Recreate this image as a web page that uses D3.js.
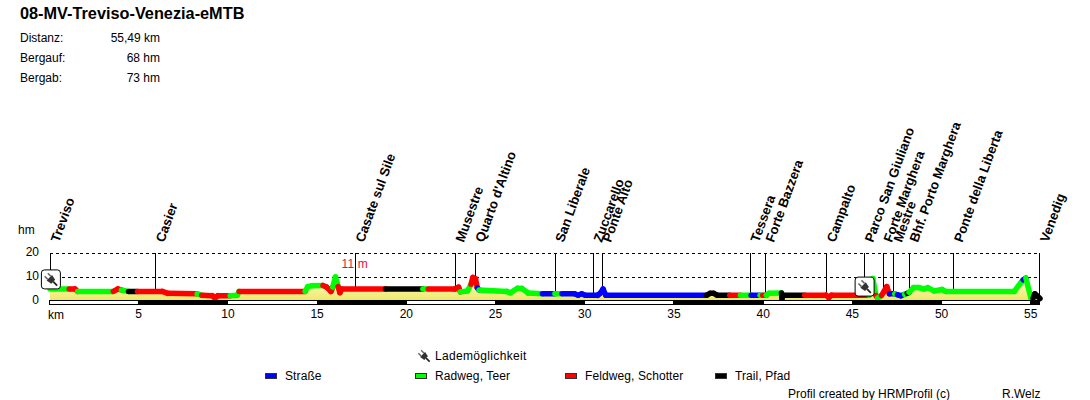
<!DOCTYPE html>
<html>
<head>
<meta charset="utf-8">
<script src="https://cdn.jsdelivr.net/npm/d3@7"></script>
<style>
    html, body { margin: 0; padding: 0; background: #fff; }
    svg { display: block; }
    text { font-family: "Liberation Sans", Arial, sans-serif; font-size: 12px; fill: #000; }
</style>
</head>
<body>
<div id="chart"></div>
<script>
const title = "08-MV-Treviso-Venezia-eMTB";
const statLabels = ["Distanz:", "Bergauf:", "Bergab:"];
const statValues = ["55,49 km", "68 hm", "73 hm"];

// Profil: km, Hoehe (hm), Belag des Abschnitts ab diesem Punkt
const profileKm = [0, 1.08, 1.4, 1.55, 3.55, 3.8, 4.0, 4.4, 4.9, 6.3, 6.6, 8.25, 8.5, 9.1, 9.25, 9.4, 10.1, 10.5, 10.6, 14.3,
    14.45, 14.7, 15.3, 15.5, 15.75, 15.85, 16.0, 16.15, 16.25, 16.35, 18.8, 20.9, 21.2, 22.7, 22.9, 23.0, 23.4, 23.6, 23.7, 23.85,
    23.95, 24.05, 25.6, 25.8, 26.2, 26.45, 26.8, 27.6, 28.3, 28.7, 29.4, 29.6, 29.8, 30, 30.7, 30.85, 31, 31.15, 36.8, 37.0,
    37.2, 37.4, 38.1, 38.7, 39.3, 39.8, 39.95, 40.15, 40.3, 41, 41.03, 41.08, 42.3, 43.5, 43.65, 43.8, 45.9, 46.12, 46.3, 46.4,
    46.6, 46.75, 46.9, 47.05, 47.35, 47.5, 47.7, 47.9, 48.05, 48.15, 48.4, 48.7, 49.0, 49.2, 49.55, 50, 50.2, 54.05, 54.45, 54.55,
    54.7, 54.98, 55.1, 55.2, 55.35, 55.49];
const profileHm = [5, 5, 5, 4, 4, 5, 4.6, 4, 4, 4, 3.2, 3, 2.4, 2.2, 1.2, 2.2, 2.2, 2.4, 4, 4,
    6, 6.4, 6.5, 5.8, 4, 5.8, 10, 6, 3.5, 5, 5, 5, 5, 5, 5.8, 3.8, 4.2, 7, 9.8, 9.3,
    5.5, 4.6, 4, 3.4, 5.3, 5.2, 3.3, 3, 3, 3, 3, 2.4, 3, 2.4, 2.4, 3.3, 5, 2.4, 2.4, 3.2,
    3.2, 2.4, 2.4, 2.4, 2.4, 2.4, 2.4, 2.4, 3.2, 3.3, 1, 2.4, 2.4, 2.4, 1.4, 2.4, 2.4, 9.4, 2.2, 1.3,
    2.3, 4, 6, 3, 3, 2.6, 2.2, 2.8, 3.2, 3.6, 5.6, 5.6, 5, 5.6, 4.2, 4.8, 4, 4, 8, 8.8,
    9.5, 1.2, 1.2, 3, 2, 1];
const profileSurface = ("GRRGRRGKRRRGRRRRGGRG" + "GGRRRGGRRR" + "KGRRRGGRRR"
    + "BGGGGGGBGB" + "BBBBBBBBKK" + "KKRGBGRGGK" + "KKRRRRGGRG"
    + "RRRBGBBGKG" + "GGGGGGGGGB" + "GGKKKK").split("");

const stationNames = ["Treviso", "Casier", "Casate sul Sile", "Musestre", "Quarto d'Altino", "San Liberale", "Zuccarello", "Ponte Alto",
    "Tessera", "Forte Bazzera", "Campalto", "Parco San Giuliano", "Forte Marghera", "Mestre", "Bhf. Porto Marghera", "Ponte della Liberta", "Venedig"];
const stationKm = [0, 5.88, 17.08, 22.68, 23.8, 28.28, 30.42, 30.92, 39.22, 40.06, 43.5, 45.63, 46.68, 47.23, 48.13, 50.63, 55.45];

const chargeKm = [0.05, 45.66];
const chargeHm = [9, 6];

const yTicks = [0, 10, 20];
const kmTicks = [5, 10, 15, 20, 25, 30, 35, 40, 45, 50, 55];
const stripKm = [0, 5, 10, 15, 20, 25, 30, 35, 40, 45, 50, 55, 55.49];

const legendNames = ["Straße", "Radweg, Teer", "Feldweg, Schotter", "Trail, Pfad"];
const legendKeys = ["B", "G", "R", "K"];
const surfaceColors = { B: "#0000ff", G: "#00ff00", R: "#ff0000", K: "#000000" };

const svg = d3.select("#chart").append("svg")
    .attr("width", 1090)
    .attr("height", 400);

const x = d3.scaleLinear().domain([0, 55.49]).range([50, 1040]);
const y = d3.scaleLinear().domain([0, 20]).range([301, 253]);
const hmAtKm = d3.scaleLinear().domain(profileKm).range(profileHm);

// Kopf
svg.append("text").attr("x", 20).attr("y", 19)
    .style("font-size", "16.3px").style("font-weight", "bold").text(title);
statLabels.forEach((s, i) => {
    svg.append("text").attr("x", 20).attr("y", 42 + i * 20).text(s);
    svg.append("text").attr("x", 160).attr("y", 42 + i * 20).attr("text-anchor", "end").text(statValues[i]);
});

// Flaeche unter dem Profil
const grad = svg.append("defs").append("linearGradient")
    .attr("id", "fill")
    .attr("gradientUnits", "userSpaceOnUse")
    .attr("x1", 0).attr("x2", 0)
    .attr("y1", y(10)).attr("y2", y(0));
grad.append("stop").attr("offset", 0).attr("stop-color", "#fffde0");
grad.append("stop").attr("offset", 1).attr("stop-color", "#eee860");

svg.append("path")
    .attr("d", d3.area().x((d, i) => x(profileKm[i])).y0(y(0)).y1(d => y(d))(profileHm))
    .attr("fill", "url(#fill)");

// Hilfslinien
svg.append("g").selectAll("line")
    .data([10, 20])
    .enter().append("line")
    .attr("x1", x(0)).attr("x2", x(55.49))
    .attr("y1", d => y(d)).attr("y2", d => y(d))
    .attr("stroke", "#000")
    .attr("stroke-dasharray", "3,3")
    .attr("shape-rendering", "crispEdges");

// Orte
svg.append("g").selectAll("line")
    .data(stationKm)
    .enter().append("line")
    .attr("x1", d => Math.round(x(d)) + 0.5).attr("x2", d => Math.round(x(d)) + 0.5)
    .attr("y1", y(20))
    .attr("y2", d => y(hmAtKm(d)))
    .attr("stroke", "#000");

svg.append("g").selectAll("text")
    .data(stationNames)
    .enter().append("text")
    .attr("transform", (d, i) => `translate(${x(stationKm[i]) + 9},243) rotate(-70)`)
    .style("font-weight", "bold")
    .style("font-size", "13.2px")
    .text(d => d);

// Profillinie, Abschnitt fuer Abschnitt nach Belag
const lineGen = d3.line().x(d => x(d[0])).y(d => y(d[1]));
svg.append("g").selectAll("path")
    .data(profileKm.slice(0, -1).map((km, i) => ({
        pts: [[km, profileHm[i]], [profileKm[i + 1], profileHm[i + 1]]],
        surface: profileSurface[i]
    })))
    .enter().append("path")
    .attr("d", d => lineGen(d.pts))
    .attr("fill", "none")
    .attr("stroke", d => surfaceColors[d.surface])
    .attr("stroke-width", 5.5)
    .attr("stroke-linecap", "round")
    .attr("stroke-linejoin", "round");

// km-Leiste
svg.append("g").selectAll("rect")
    .data(stripKm.slice(0, -1))
    .enter().append("rect")
    .attr("x", d => x(d) - 0.5)
    .attr("y", 300)
    .attr("width", (d, i) => x(stripKm[i + 1]) - x(d))
    .attr("height", 4)
    .attr("fill", (d, i) => i % 2 ? "#000" : "#fff")
    .attr("stroke", "#000")
    .attr("stroke-width", 1)
    .attr("shape-rendering", "crispEdges");

// Achsen
const yAxis = svg.append("g")
    .attr("transform", "translate(42,-1)")
    .call(d3.axisLeft(y).tickValues(yTicks).tickSize(0).tickPadding(3));
yAxis.select(".domain").remove();
yAxis.selectAll("text").style("font-family", '"Liberation Sans", Arial, sans-serif').style("font-size", "12px");

const xAxis = svg.append("g")
    .attr("transform", "translate(-1,306)")
    .call(d3.axisBottom(x).tickValues(kmTicks).tickSize(0).tickPadding(3));
xAxis.select(".domain").remove();
xAxis.selectAll("text").style("font-family", '"Liberation Sans", Arial, sans-serif').style("font-size", "12px");

svg.append("text").attr("x", 18).attr("y", 234).text("hm");
svg.append("text").attr("x", 48).attr("y", 319).text("km");

svg.append("text")
    .attr("x", x(16.0) + 6).attr("y", 268)
    .style("fill", "#e8103c")
    .style("letter-spacing", "0.2px")
    .text("11 m");

// Stecker-Symbol
function drawPlug(g) {
    const p = g.append("g").attr("transform", "rotate(-45)");
    p.append("path").attr("d", "M-3.5,-2 L3.5,-2 L2.5,3 L-2.5,3 Z").attr("fill", "#333");
    p.append("path").attr("d", "M-2,-2 V-6 M2,-2 V-6").attr("stroke", "#666").attr("stroke-width", 1.4);
    p.append("path").attr("d", "M0,3 V8").attr("stroke", "#222").attr("stroke-width", 1.6);
}

svg.append("g").selectAll("g")
    .data(chargeKm)
    .enter().append("g")
    .attr("transform", (d, i) => `translate(${x(d)},${y(chargeHm[i])})`)
    .each(function () {
        const g = d3.select(this);
        g.append("rect")
            .attr("x", -9.5).attr("y", -9.5)
            .attr("width", 19).attr("height", 19)
            .attr("rx", 3)
            .attr("fill", "#fff").attr("stroke", "#000");
        drawPlug(g.append("g").attr("transform", "scale(1.1)"));
    });

// Legende
drawPlug(svg.append("g").attr("transform", "translate(424,356)"));
svg.append("text").attr("x", 435).attr("y", 360)
    .style("letter-spacing", "0.33px").text("Lademöglichkeit");

const legend = svg.append("g").selectAll("g")
    .data(legendNames)
    .enter().append("g")
    .attr("transform", (d, i) => `translate(${265 + i * 150},0)`);
legend.append("rect")
    .attr("x", 0.5).attr("y", 373.5)
    .attr("width", 11).attr("height", 5)
    .attr("fill", (d, i) => surfaceColors[legendKeys[i]])
    .attr("stroke", "#333");
legend.append("text").attr("x", 20).attr("y", 380)
    .style("letter-spacing", "0.1px").text(d => d);

svg.append("text").attr("x", 788).attr("y", 398).text("Profil created by HRMProfil (c)");
svg.append("text").attr("x", 1002).attr("y", 398).text("R.Welz");
</script>
</body>
</html>
